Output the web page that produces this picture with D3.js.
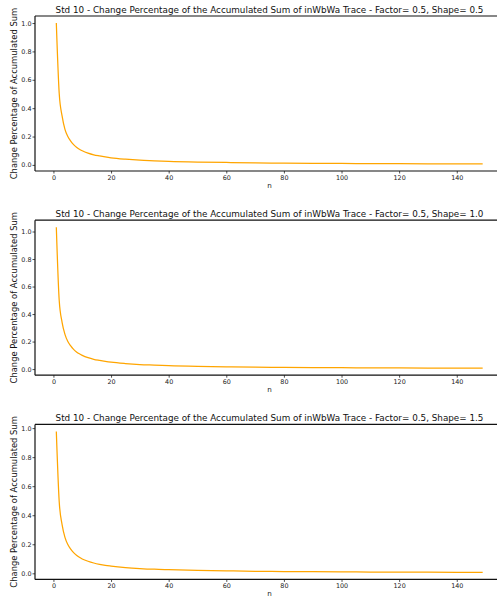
<!DOCTYPE html>
<html lang="en">
  <head>
    <meta charset="utf-8">
    <title>Change Percentage</title>
    <style>
      body { margin: 0; background: #fff; }
      text { font-family: "DejaVu Sans", sans-serif; font-stretch: normal; }
    </style>
  </head>
  <body>
    <svg></svg>
    <script src="https://d3js.org/d3.v7.min.js"></script>
    <script>
      // n values sampled along the curve
      var nValues = [1, 2, 3, 4, 5, 6, 7, 8, 9, 10, 12, 14, 16, 18, 20, 25, 30, 35, 40, 50, 60, 70, 80, 90, 100, 110, 120, 130, 140, 149];

      // change percentage for each shape
      var shape05 = [1.0, 0.505, 0.345, 0.25, 0.2, 0.167, 0.143, 0.125, 0.111, 0.1, 0.083, 0.071, 0.063, 0.056, 0.05, 0.04, 0.033, 0.029, 0.025, 0.02, 0.017, 0.0143, 0.0125, 0.0111, 0.01, 0.0091, 0.0083, 0.0077, 0.0071, 0.0067];
      var shape10 = [1.031, 0.5, 0.34, 0.252, 0.2, 0.168, 0.143, 0.125, 0.111, 0.1, 0.083, 0.071, 0.063, 0.056, 0.05, 0.04, 0.033, 0.029, 0.025, 0.02, 0.017, 0.0143, 0.0125, 0.0111, 0.01, 0.0091, 0.0083, 0.0077, 0.0071, 0.0068];
      var shape15 = [0.977, 0.495, 0.335, 0.248, 0.198, 0.166, 0.142, 0.124, 0.11, 0.099, 0.083, 0.071, 0.062, 0.055, 0.05, 0.04, 0.033, 0.028, 0.025, 0.02, 0.017, 0.0142, 0.0124, 0.011, 0.0099, 0.009, 0.0082, 0.0076, 0.0071, 0.0066];

      var titles = [
        'Std 10 - Change Percentage of the Accumulated Sum of inWbWa Trace - Factor= 0.5, Shape= 0.5',
        'Std 10 - Change Percentage of the Accumulated Sum of inWbWa Trace - Factor= 0.5, Shape= 1.0',
        'Std 10 - Change Percentage of the Accumulated Sum of inWbWa Trace - Factor= 0.5, Shape= 1.5'
      ];
      var series = [shape05, shape10, shape15];
      var yTicks = [0, 0.2, 0.4, 0.6, 0.8, 1.0];
      var xTicks = [0, 20, 40, 60, 80, 100, 120, 140];

      var width = 497, height = 599;
      var svg = d3.select('svg').attr('width', width).attr('height', height);

      var left = 35, right = 504, plotH = 155, step = 204.2, firstTop = 16;

      series.forEach(function(vals, k) {
        var top = firstTop + k * step;
        var bottom = top + plotH;
        var g = svg.append('g');

        // 5% margins like matplotlib
        var xMin = d3.min(nValues), xMax = d3.max(nValues);
        var xPad = (xMax - xMin) * 0.05;
        var x = d3.scaleLinear().domain([xMin - xPad, xMax + xPad]).range([left, right]);
        var yMin = d3.min(vals), yMax = d3.max(vals);
        var yPad = (yMax - yMin) * 0.05;
        var y = d3.scaleLinear().domain([yMin - yPad, yMax + yPad]).range([bottom, top]);

        var xAxis = g.append('g')
          .attr('transform', 'translate(0,' + bottom + ')')
          .call(d3.axisBottom(x).tickValues(xTicks).tickSize(2.5).tickPadding(1.5).tickFormat(d3.format('d')));
        var yAxis = g.append('g')
          .attr('transform', 'translate(' + left + ',0)')
          .call(d3.axisLeft(y).tickValues(yTicks).tickSize(2.5).tickPadding(1).tickFormat(d3.format('.1f')));

        [xAxis, yAxis].forEach(function(a) {
          a.select('.domain').remove();
          a.selectAll('.tick line').attr('stroke', '#222').attr('stroke-width', 0.8);
          a.selectAll('.tick text').attr('fill', '#222').style('font-size', '6.4px').style('font-family', '"DejaVu Sans", sans-serif');
        });

        // spines: left, bottom, top
        g.append('line').attr('x1', left).attr('x2', left).attr('y1', top).attr('y2', bottom)
          .attr('stroke', '#111').attr('stroke-width', 1.2);
        g.append('line').attr('x1', left).attr('x2', right).attr('y1', bottom).attr('y2', bottom)
          .attr('stroke', '#111').attr('stroke-width', 1.2);
        g.append('line').attr('x1', left).attr('x2', right).attr('y1', top).attr('y2', top)
          .attr('stroke', '#111').attr('stroke-width', 1.2);

        var line = d3.line()
          .x(function(d, i) { return x(nValues[i]); })
          .y(function(d) { return y(d); })
          .curve(d3.curveMonotoneX);

        g.append('path')
          .datum(vals)
          .attr('d', line)
          .attr('fill', 'none')
          .attr('stroke', '#FFA500')
          .attr('stroke-width', 1.25);

        // title
        g.append('text')
          .attr('x', (left + right) / 2)
          .attr('y', top - 3)
          .attr('text-anchor', 'middle')
          .attr('fill', '#111')
          .style('font-size', '8.8px')
          .text(titles[k]);

        // axis labels
        g.append('text')
          .attr('x', (left + right) / 2)
          .attr('y', bottom + 17)
          .attr('text-anchor', 'middle')
          .attr('fill', '#222')
          .style('font-size', '7.2px')
          .text('n');

        g.append('text')
          .attr('transform', 'translate(17,' + (top + bottom) / 2 + ') rotate(-90)')
          .attr('text-anchor', 'middle')
          .attr('fill', '#111')
          .style('font-size', '8.4px')
          .text('Change Percentage of Accumulated Sum');
      });
    </script>
  </body>
</html>
